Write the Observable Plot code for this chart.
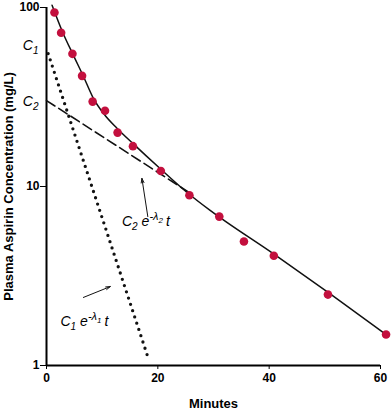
<!DOCTYPE html>
<html>
<head>
<meta charset="utf-8">
<script src="https://cdn.jsdelivr.net/npm/d3@7"></script>
<script src="https://cdn.jsdelivr.net/npm/@observablehq/plot@0.6"></script>
<style>
  html, body { margin: 0; padding: 0; background: #fff; }
  #chart { width: 391px; height: 411px; }
</style>
</head>
<body>
<div id="chart"></div>
<script>
// Observed plasma concentrations (minutes, mg/L)
const timeMin = [1.43, 2.63, 4.66, 6.39, 8.29, 10.51, 12.77, 15.53, 20.54, 25.67, 31.04, 35.47, 40.84, 50.56, 61.0];
const concentration = [93.8, 72.2, 55.1, 41.5, 29.8, 26.5, 20.0, 16.8, 12.2, 8.93, 6.79, 4.93, 4.10, 2.49, 1.49];

// Fitted curve
const fitTime = [1.0, 2.9, 4.9, 6.7, 8.4, 10.5, 12.7, 15.6, 20.4, 25.2, 29.4, 40.8, 50.9, 61.0];
const fitConc = [103, 72.8, 53.5, 40.8, 31.2, 25.0, 21.1, 17.3, 12.6, 9.29, 7.35, 4.20, 2.52, 1.49];

// Slow component C2 e^-λ2 t (dashed) and fast component C1 e^-λ1 t (dotted)
const slowTime = [0, 26];
const slowConc = [30.2, 9.1];
const fastTime = [0.3, 18.4];
const fastConc = [55.3, 1.07];

// Intercept labels on the y axis
const interceptLabels = ["C1", "C2"];
const interceptValues = [61, 30];

// Formula annotations: label anchor (left, baseline), arrow tail -> head
const formulaLabels = ["C2 e-λ2 t", "C1 e-λ1 t"];
const formulaTime = [13.55, 2.5];
const formulaConc = [6.05, 1.67];
const arrowTail = [[18.2, 6.79], [6.63, 2.40]];
const arrowHead = [[17.14, 11.1], [11.46, 2.76]];

// Tick values and axis titles
const xTicks = [0, 20, 40, 60];
const yTicks = [1, 10, 100];
const xTitle = "Minutes";
const yTitle = "Plasma Aspirin Concentration (mg/L)";

const points = timeMin.map((t, i) => ({t, c: concentration[i]}));
const fit = fitTime.map((t, i) => ({t, c: fitConc[i]}));
const slow = slowTime.map((t, i) => ({t, c: slowConc[i]}));
const fast = fastTime.map((t, i) => ({t, c: fastConc[i]}));
const intercepts = interceptLabels.map((label, i) => ({label, c: interceptValues[i]}));
const formulas = formulaLabels.map((label, i) => ({label, t: formulaTime[i], c: formulaConc[i]}));
const arrows = arrowTail.map((a, i) => ({x1: a[0], y1: a[1], x2: arrowHead[i][0], y2: arrowHead[i][1]}));

const font = "'Liberation Sans', Arial, Helvetica, sans-serif";

const plot = Plot.plot({
  width: 391,
  height: 411,
  marginLeft: 46,
  marginRight: 11,
  marginTop: 7,
  marginBottom: 46,
  style: {fontFamily: font, fontSize: "12px", background: "#fff", color: "#000", overflow: "visible"},
  x: {domain: [0, 60]},
  y: {type: "log", domain: [1, 100]},
  marks: [
    Plot.axisX({ticks: xTicks, tickFormat: d => String(d), tickSize: 4, tickPadding: 4, fontWeight: "bold", fontSize: 12, label: null}),
    Plot.axisY({ticks: yTicks, tickFormat: d => String(d), tickSize: 6, tickPadding: 1, fontWeight: "bold", fontSize: 12, label: null}),
    Plot.text([xTitle], {frameAnchor: "bottom", dy: 38, textAnchor: "middle", lineAnchor: "middle", fontWeight: "bold", fontSize: 13, fill: "#000"}),
    Plot.text([yTitle], {frameAnchor: "left", dx: -38, rotate: -90, textAnchor: "middle", lineAnchor: "middle", fontWeight: "bold", fontSize: 13, fill: "#000"}),
    Plot.ruleY([1], {stroke: "#000", strokeWidth: 2}),
    Plot.ruleX([0], {stroke: "#000", strokeWidth: 2}),
    Plot.line(fast, {x: "t", y: "c", stroke: "#111", strokeWidth: 3.3, strokeDasharray: "0 6.6", strokeLinecap: "round", clip: false}),
    Plot.line(slow, {x: "t", y: "c", stroke: "#111", strokeWidth: 1.6, strokeDasharray: "10 4.5"}),
    Plot.line(fit, {x: "t", y: "c", stroke: "#111", strokeWidth: 1.5, curve: "monotone-x", clip: false}),
    Plot.dot(points, {x: "t", y: "c", r: 4.3, fill: "#c3103e", stroke: "none", clip: false}),
    Plot.arrow(arrows, {x1: "x1", y1: "y1", x2: "x2", y2: "y2", stroke: "#111", strokeWidth: 1, headLength: 7, headAngle: 35}),
    Plot.text(intercepts, {x: () => 0, y: "c", text: "label", textAnchor: "end", dx: -8, lineAnchor: "middle", fontSize: 14, fontStyle: "italic", fill: "#000"}),
    Plot.text(formulas, {x: "t", y: "c", text: "label", textAnchor: "start", lineAnchor: "bottom", fontSize: 14, fontStyle: "italic", fill: "#000"})
  ]
});

// Render subscripts and superscripts as real text tspans
d3.select(plot).selectAll("text").each(function() {
  const el = d3.select(this);
  if (el.selectAll("tspan").size() > 0) return;
  const s = this.textContent;
  let m = s.match(/^C(\d) e-λ(\d) t$/);
  if (m) {
    el.text(null);
    el.append("tspan").text("C");
    el.append("tspan").attr("font-size", "10").attr("dy", "4").text(m[1]);
    el.append("tspan").attr("dy", "-4").attr("dx", "4").text("e");
    el.append("tspan").attr("font-size", "11").attr("dy", "-6").text("-λ");
    el.append("tspan").attr("font-size", "8").attr("dy", "3").text(m[2]);
    el.append("tspan").attr("dy", "3").attr("dx", "3").text("t");
    return;
  }
  m = s.match(/^C(\d)$/);
  if (m) {
    el.text(null);
    el.append("tspan").text("C");
    el.append("tspan").attr("font-size", "10").attr("dy", "4").text(m[1]);
  }
});

document.getElementById("chart").appendChild(plot);
</script>
</body>
</html>
